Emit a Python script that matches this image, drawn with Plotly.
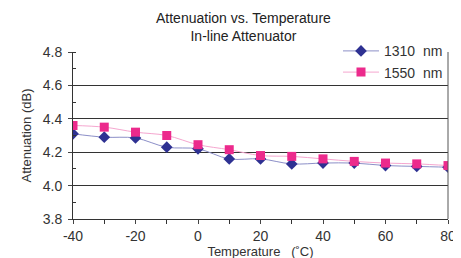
import plotly.graph_objects as go

temps = [-40, -30, -20, -10, 0, 10, 20, 30, 40, 50, 60, 70, 80]
att_1310 = [4.31, 4.29, 4.285, 4.23, 4.22, 4.16, 4.16, 4.13, 4.135, 4.135, 4.12, 4.115, 4.11]
att_1550 = [4.36, 4.35, 4.32, 4.30, 4.245, 4.215, 4.18, 4.175, 4.16, 4.145, 4.135, 4.13, 4.12]
x_ticks = [-40, -20, 0, 20, 40, 60, 80]
x_labels = ["-40", "-20", "0", "20", "40", "60", "80"]
y_ticks = [3.8, 4.0, 4.2, 4.4, 4.6, 4.8]
y_labels = ["3.8", "4.0", "4.2", "4.4", "4.6", "4.8"]

font = "Liberation Sans"
fig = go.Figure()
fig.add_trace(go.Scatter(x=temps, y=att_1310, name="1310  nm", mode="lines+markers",
                         line=dict(color="#8C8FC8", width=1, shape="spline"),
                         marker=dict(symbol="diamond", size=9, color="#2E3192")))
fig.add_trace(go.Scatter(x=temps, y=att_1550, name="1550  nm", mode="lines+markers",
                         line=dict(color="#F5A6CF", width=1, shape="spline"),
                         marker=dict(symbol="square", size=9, color="#EC2A8C")))

fig.add_shape(type="line", xref="paper", yref="paper", x0=1, x1=1, y0=0, y1=1,
              line=dict(color="#555555", width=1))

fig.add_annotation(text="Attenuation vs. Temperature<br>In-line Attenuator", xref="paper", yref="paper",
                   x=0.455, y=1.0, yshift=44, xanchor="center", yanchor="top", showarrow=False,
                   font=dict(size=14, color="#222222"))

fig.update_layout(
    width=461, height=258,
    margin=dict(l=65, r=21, t=44, b=39),
    paper_bgcolor="white", plot_bgcolor="white",
    font=dict(family=font, color="#333333"),
    showlegend=True,
    legend=dict(x=1, xanchor="right", y=1.1, yanchor="top", font=dict(size=14, color="#333333"),
                bgcolor="rgba(0,0,0,0)", tracegroupgap=0, itemwidth=36),
    xaxis=dict(range=[-40, 80], tickvals=x_ticks, ticktext=x_labels, ticks="outside", ticklen=4,
               showgrid=False, showline=True, linecolor="#333333", linewidth=1,
               tickfont=dict(size=14), zeroline=False,
               title=dict(text="Temperature   (˚C)", font=dict(size=13), standoff=1),
               minor=dict(dtick=10, ticks="outside", ticklen=4, tickcolor="#333333")),
    yaxis=dict(range=[3.8, 4.8], tickvals=y_ticks, ticktext=y_labels,
               ticks="outside", ticklen=4, showgrid=True, gridcolor="#333333", gridwidth=1,
               showline=True, linecolor="#333333", linewidth=1, zeroline=False,
               tickfont=dict(size=14), ticklabelstandoff=3,
               title=dict(text="Attenuation (dB)", font=dict(size=13), standoff=8),
               minor=dict(dtick=0.1, ticks="inside", ticklen=3, tickcolor="#333333")),
)
fig.write_html("out.html")
